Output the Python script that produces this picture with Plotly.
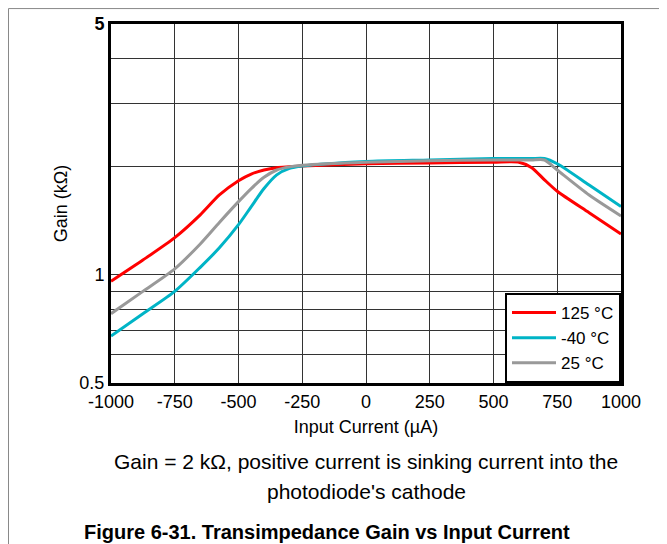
import plotly.graph_objects as go

# Input current (uA) and transimpedance gain (kOhm)
current = [-1000, -875, -750, -650, -575, -500, -450, -400, -350, -300, -250,
           0, 250, 500, 600, 650, 700, 750, 875, 1000]
gain_125 = [0.96, 1.10, 1.27, 1.47, 1.67, 1.83, 1.91, 1.96, 1.99, 2.00, 2.01,
            2.04, 2.05, 2.06, 2.06, 1.99, 1.84, 1.71, 1.49, 1.30]
gain_m40 = [0.676, 0.78, 0.90, 1.05, 1.19, 1.38, 1.55, 1.74, 1.90, 1.98, 2.01,
            2.07, 2.09, 2.11, 2.11, 2.11, 2.11, 2.04, 1.78, 1.55]
gain_25 = [0.78, 0.90, 1.04, 1.22, 1.40, 1.60, 1.74, 1.87, 1.96, 2.00, 2.02,
           2.06, 2.08, 2.09, 2.09, 2.09, 2.09, 1.96, 1.67, 1.46]

series = [
    ("125 °C", gain_125, "#ff0000"),
    ("-40 °C", gain_m40, "#00b4c6"),
    ("25 °C", gain_25, "#999999"),
]

x_ticks = [-1000, -750, -500, -250, 0, 250, 500, 750, 1000]
x_text = ["-1000", "-750", "-500", "-250", "0", "250", "500", "750", "1000"]
y_ticks = [0.5, 0.6, 0.7, 0.8, 0.9, 1, 2, 3, 4, 5]
y_text = ["0.5", "", "", "", "", "1", "", "", "", "<b>5</b>"]

FONT = "Liberation Sans, Arial, sans-serif"

fig = go.Figure()
for name, vals, color in series:
    fig.add_trace(go.Scatter(
        x=current, y=vals, name=name, mode="lines",
        line=dict(color=color, width=3, shape="spline", smoothing=0.7),
    ))

# page body has an 8px margin, so the figure is sized to fit inside it
fig.update_layout(
    width=659, height=536,
    paper_bgcolor="white", plot_bgcolor="white",
    margin=dict(l=103, r=46, t=16, b=161, autoexpand=False),
    font=dict(family=FONT, size=18, color="black"),
    showlegend=True,
    legend=dict(
        x=1, y=0, xanchor="right", yanchor="bottom",
        bgcolor="white", bordercolor="black", borderwidth=2,
        font=dict(size=17), itemwidth=44, tracegroupgap=0,
    ),
    xaxis=dict(
        range=[-1000, 1000], tickvals=x_ticks, ticktext=x_text,
        showgrid=True, gridcolor="#333333", gridwidth=1, zeroline=False,
        showline=True, linecolor="black", linewidth=3, mirror=True,
        ticks="", tickfont=dict(size=18), automargin=False,
        title=dict(text="Input Current (µA)", font=dict(size=18), standoff=10),
    ),
    yaxis=dict(
        type="log", range=[-0.30103, 0.69897],
        tickvals=y_ticks, ticktext=y_text,
        showgrid=True, gridcolor="#333333", gridwidth=1, zeroline=False,
        showline=True, linecolor="black", linewidth=3, mirror=True,
        ticks="", tickfont=dict(size=18), automargin=False,
        title=dict(text="Gain (kΩ)", font=dict(size=18), standoff=8),
    ),
    shapes=[dict(
        type="rect", xref="paper", yref="paper",
        x0=-0.201, x1=1.3, y0=-1.0, y1=1.043,
        line=dict(color="#888888", width=1), fillcolor="rgba(0,0,0,0)",
        layer="below",
    )],
    annotations=[
        dict(text="Gain = 2 kΩ, positive current is sinking current into the",
             xref="paper", yref="paper", x=0.5, y=-0.22, showarrow=False,
             xanchor="center", yanchor="middle", font=dict(size=21)),
        dict(text="photodiode's cathode",
             xref="paper", yref="paper", x=0.5, y=-0.3036, showarrow=False,
             xanchor="center", yanchor="middle", font=dict(size=21)),
        dict(text="<b>Figure 6-31. Transimpedance Gain vs Input Current</b>",
             xref="paper", yref="paper", x=0.4235, y=-0.414, showarrow=False,
             xanchor="center", yanchor="middle", font=dict(size=20)),
    ],
)

fig.write_html("out.html")
